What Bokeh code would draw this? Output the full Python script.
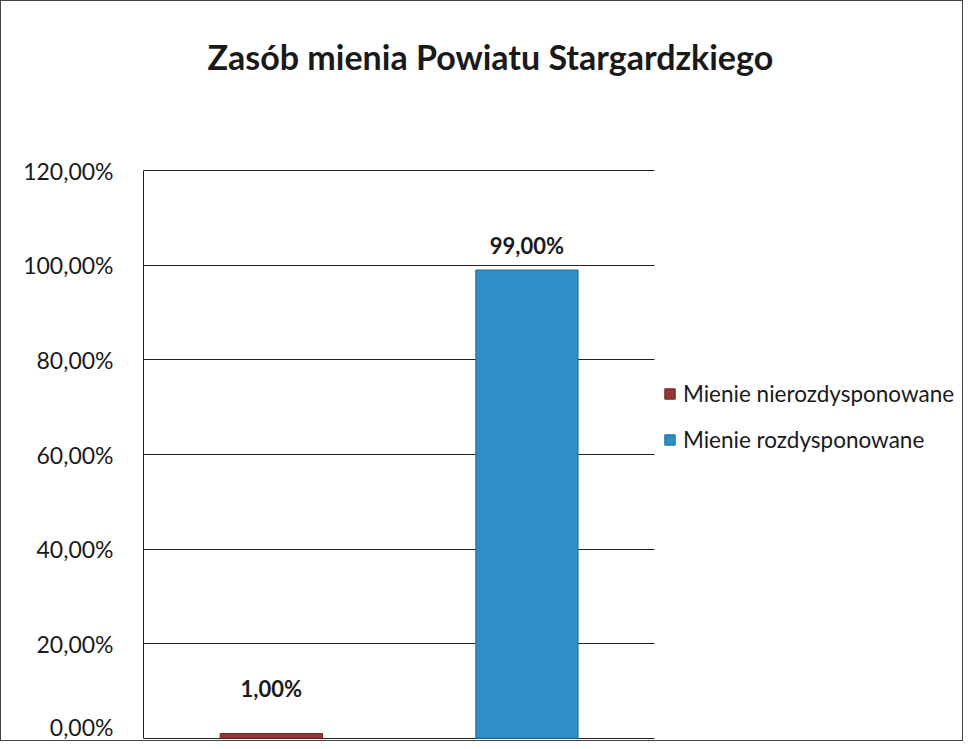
from bokeh.plotting import figure
from bokeh.models import (ColumnDataSource, Range1d, FixedTicker,
                          Legend, LegendItem, Title)
from bokeh.embed import file_html
from bokeh.resources import INLINE

# ---- data ----
categories = ["Mienie nierozdysponowane", "Mienie rozdysponowane"]
values = [1.0, 99.0]
value_labels = ["1,00%", "99,00%"]
bar_colors = ["#953735", "#2E8FC7"]
bar_lines = ["#6E2422", "#1F6A96"]
tick_values = [0, 20, 40, 60, 80, 100, 120]
tick_labels = ["0,00%", "20,00%", "40,00%", "60,00%", "80,00%", "100,00%", "120,00%"]
title_text = "Zasób mienia Powiatu Stargardzkiego"

FONT = "Lato"
W, H = 963, 741
LEFT, BOTTOM = 142, 3
CAT_PX = 255  # pixels per category slot

n = len(categories)
xpos = [i + 0.5 for i in range(n)]
frame_w = (W - 2) - LEFT

src = ColumnDataSource(dict(
    x=xpos, cat=categories, val=values, lab=value_labels,
    color=bar_colors, line=bar_lines,
    yoff=[-45, -25],
))

p = figure(width=W, height=H, output_backend="svg", toolbar_location=None,
           x_range=Range1d(0, frame_w / CAT_PX),
           y_range=Range1d(-0.25, 120.25),
           min_border_left=LEFT, min_border_right=0,
           min_border_top=0, min_border_bottom=BOTTOM)
p.styles = {"border": "1px solid #444"}

# spacer between the title and the plot area (nearest to the frame)
spacer = Title(text=" ", standoff=54, text_font_size="1px")
p.add_layout(spacer, "above")

t = Title(text=title_text, align="left", offset=64, standoff=68,
          vertical_align="top",
          text_font=FONT, text_font_size="34px", text_font_style="bold",
          text_color="#1a1a1a")
p.add_layout(t, "above")

r = p.vbar(x="x", top="val", width=0.4, source=src,
           fill_color="color", line_color="line", line_width=1)

p.text(x="x", y="val", text="lab", source=src, y_offset="yoff",
       text_align="center", text_baseline="middle",
       text_font={"value": FONT}, text_font_size="22px",
       text_font_style="bold", text_color="#1a1a1a")

p.xaxis.visible = False
p.xgrid.grid_line_color = None
p.yaxis.ticker = FixedTicker(ticks=tick_values)
p.yaxis.major_label_overrides = {v: l for v, l in zip(tick_values, tick_labels)}
p.yaxis.major_tick_line_color = None
p.yaxis.minor_tick_line_color = None
p.yaxis.axis_line_color = "#222222"
p.yaxis.bounds = (0, 120)
p.yaxis.major_label_standoff = 24
p.yaxis.major_label_text_font = FONT
p.yaxis.major_label_text_font_size = "23px"
p.yaxis.major_label_text_color = "#1a1a1a"
p.ygrid.ticker = FixedTicker(ticks=tick_values)
p.ygrid.grid_line_color = "#222222"
p.ygrid.grid_line_width = 1
p.ygrid.cross_bounds = (0, n)
p.outline_line_color = None

items = [LegendItem(label=c, renderers=[r], index=i) for i, c in enumerate(categories)]
leg = Legend(items=items, location=(520, 286), orientation="vertical",
             label_text_font=FONT, label_text_font_size="22.5px",
             label_text_color="#1a1a1a",
             glyph_width=13, glyph_height=13, label_height=26, spacing=19,
             label_standoff=7, padding=0, margin=0,
             border_line_color=None, background_fill_alpha=0)
p.add_layout(leg, "center")

open("out.html", "w").write(file_html(p, INLINE))
